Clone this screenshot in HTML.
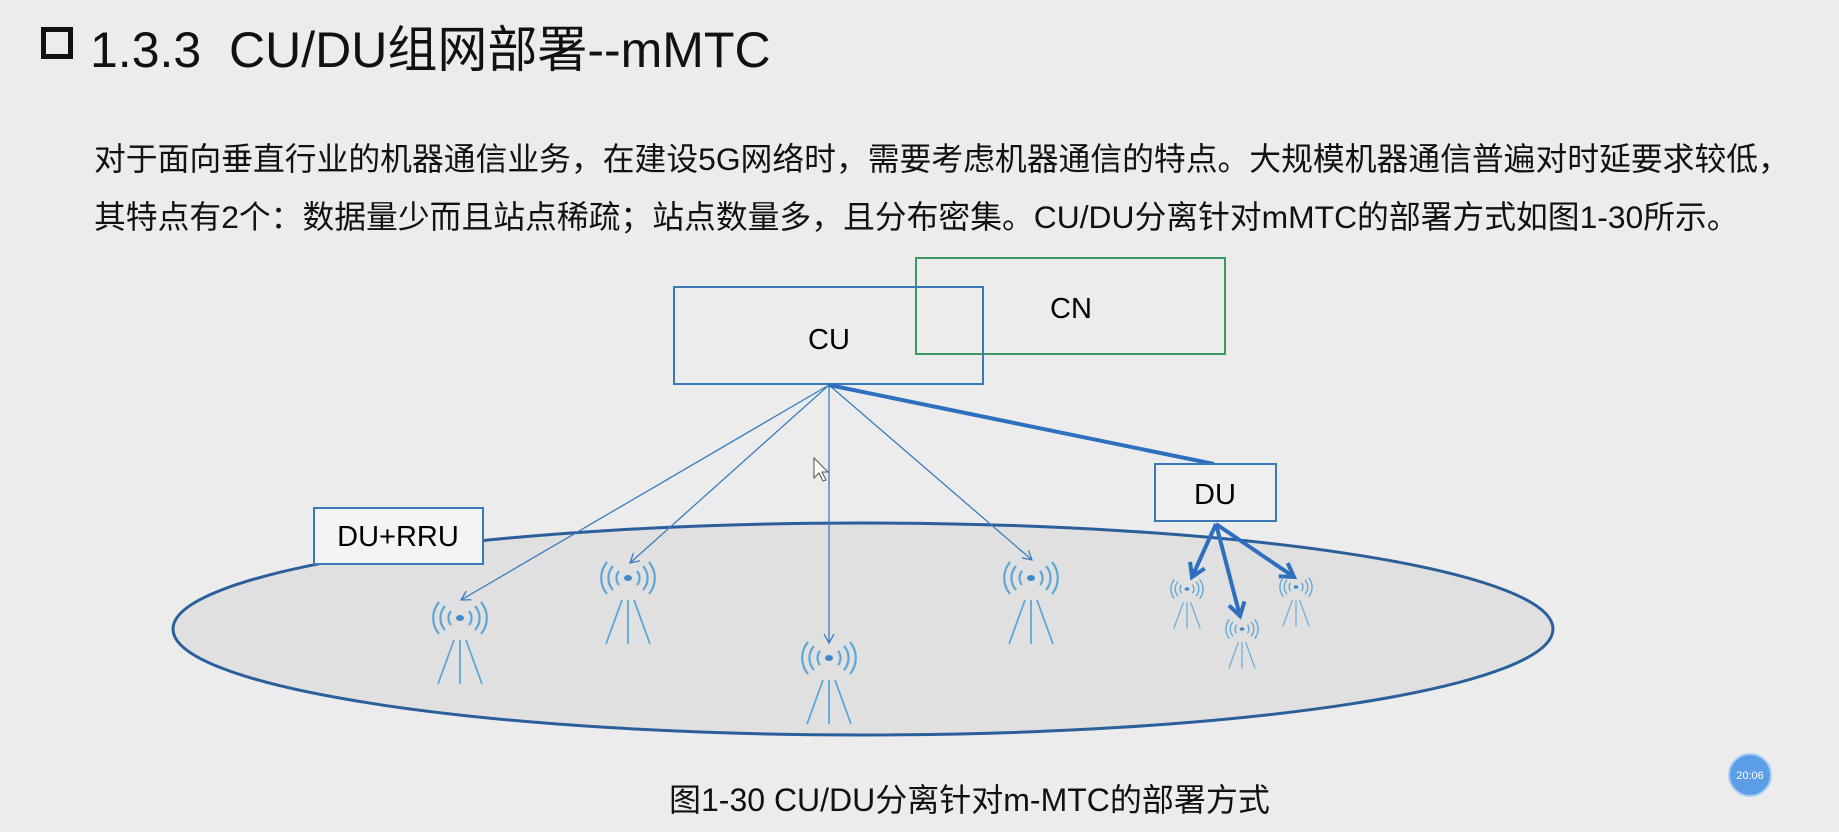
<!DOCTYPE html>
<html><head><meta charset="utf-8"><style>
body{margin:0;width:1839px;height:832px;background:#ececec;overflow:hidden;position:relative;font-family:"Liberation Sans","Noto Sans CJK SC",sans-serif;color:#111}
.t{position:absolute;white-space:nowrap}
</style></head><body>
<div style="position:absolute;left:41px;top:27px;width:22px;height:22px;border:5px solid #111"></div>
<div class="t" style="left:90px;top:10px;font-size:50px">1.3.3&nbsp; CU/DU组网部署--mMTC</div>
<div class="t" style="left:94px;top:134px;font-size:31.8px">对于面向垂直行业的机器通信业务，在建设5G网络时，需要考虑机器通信的特点。大规模机器通信普遍对时延要求较低，</div>
<div class="t" style="left:94px;top:192px;font-size:31.8px">其特点有2个：数据量少而且站点稀疏；站点数量多，且分布密集。CU/DU分离针对mMTC的部署方式如图1-30所示。</div>
<svg width="1839" height="832" style="position:absolute;left:0;top:0">
<defs>
<g id="tw" fill="none" stroke="#5fa6d6" stroke-width="2.2">
<ellipse cx="0" cy="0" rx="4" ry="3" fill="#3d8cc8" stroke="none"/>
<path d="M-9,-7 A11,11 0 0 0 -9,7 M9,-7 A11,11 0 0 1 9,7 M-15,-12 A18,18 0 0 0 -15,12 M15,-12 A18,18 0 0 1 15,12 M-21,-16 A25,25 0 0 0 -21,16 M21,-16 A25,25 0 0 1 21,16"/>
<path d="M-6,22 L-22,66 M0,22 L0,66 M6,22 L22,66" stroke-width="1.8"/>
</g>
<marker id="a" markerWidth="12" markerHeight="12" refX="10" refY="6" orient="auto" markerUnits="userSpaceOnUse"><path d="M1,1 L10,6 L1,11" fill="none" stroke="#3a7cc0" stroke-width="1.3"/></marker>
<marker id="b" markerWidth="20" markerHeight="20" refX="15" refY="10" orient="auto" markerUnits="userSpaceOnUse"><path d="M2,2 L15,10 L2,18" fill="none" stroke="#2e6fc0" stroke-width="4"/></marker>
</defs>
<ellipse cx="863" cy="629" rx="690" ry="106" fill="#e0e0e0" stroke="#2a5f9a" stroke-width="3"/>
<rect x="916" y="258" width="309" height="96" fill="none" stroke="#3c9a5e" stroke-width="2"/>
<rect x="674" y="287" width="309" height="97" fill="none" stroke="#3a78b8" stroke-width="2"/>
<text x="829" y="349" font-size="29" text-anchor="middle" font-family="Liberation Sans,sans-serif">CU</text>
<text x="1071" y="318" font-size="29" text-anchor="middle" font-family="Liberation Sans,sans-serif">CN</text>
<rect x="314" y="508" width="169" height="56" fill="#f4f4f4" stroke="#3a78b8" stroke-width="2"/>
<text x="398" y="546" font-size="29" text-anchor="middle" font-family="Liberation Sans,sans-serif">DU+RRU</text>
<g stroke="#3a7cc0" stroke-width="1.3" marker-end="url(#a)">
<line x1="829" y1="385" x2="461" y2="600"/>
<line x1="829" y1="385" x2="630" y2="563"/>
<line x1="829" y1="385" x2="829" y2="643"/>
<line x1="829" y1="385" x2="1032" y2="560"/>
</g>
<line x1="829" y1="385" x2="1214" y2="464" stroke="#2e6fc0" stroke-width="4"/>
<rect x="1155" y="464" width="121" height="57" fill="#efefef" stroke="#3a78b8" stroke-width="2"/>
<text x="1215" y="504" font-size="29" text-anchor="middle" font-family="Liberation Sans,sans-serif">DU</text>
<g stroke="#2e6fc0" stroke-width="4" marker-end="url(#b)">
<line x1="1216" y1="524" x2="1192" y2="577"/>
<line x1="1216" y1="524" x2="1240" y2="616"/>
<line x1="1216" y1="524" x2="1294" y2="577"/>
</g>
<use href="#tw" transform="translate(460,618)"/>
<use href="#tw" transform="translate(628,578)"/>
<use href="#tw" transform="translate(829,658)"/>
<use href="#tw" transform="translate(1031,578)"/>
<use href="#tw" transform="translate(1187,589) scale(0.6)"/>
<use href="#tw" transform="translate(1242,629) scale(0.6)"/>
<use href="#tw" transform="translate(1296,587) scale(0.6)"/>
<path d="M814,458 L814,478 L819,473 L823,481 L826,480 L822,472 L828,472 Z" fill="#fff" stroke="#555" stroke-width="1"/>
<circle cx="1750" cy="775" r="21" fill="#5b9ee6" stroke="#a9cdf5" stroke-width="2"/>
<text x="1750" y="779" font-size="11" fill="#fff" text-anchor="middle" font-family="Liberation Sans,sans-serif">20:06</text>
</svg>
<div class="t" style="left:669px;top:775px;font-size:32px">图1-30 CU/DU分离针对m-MTC的部署方式</div>
</body></html>
